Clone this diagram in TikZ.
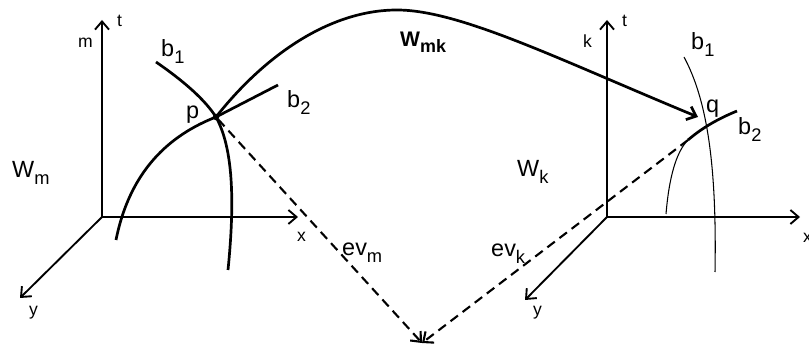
\documentclass[tikz,border=0pt]{standalone}
\usepackage{fontspec}
\usepackage{graphicx}
\setmainfont{Liberation Sans}
\usetikzlibrary{arrows.meta}

\newcommand\lowsub[1]{\raisebox{-0.5ex}{\scalebox{0.78}{#1}}}

\tikzset{
  axis/.style={->, line width=1.6pt},
  curve/.style={line width=2.3pt},
  thincurve/.style={line width=0.9pt},
  evmap/.style={->, line width=1.8pt, dash pattern=on 8pt off 5pt},
  lbl/.style={anchor=base west, inner sep=0pt, font=\fontsize{20}{21}\selectfont},
  axlbl/.style={anchor=base west, inner sep=0pt, font=\fontsize{15}{16}\selectfont},
  dot/.style={circle, draw, fill=white, inner sep=0pt, minimum size=4.5pt, line width=1pt}
}

\begin{document}
\begin{tikzpicture}[x=0.03cm, y=-0.03cm, >={Straight Barb[length=7pt,width=12pt]}]
    \useasboundingbox (0,0) rectangle (809,349);

    % frame of W_m
    \coordinate (Om) at (102,217);
    \coordinate (tm) at (102,20);
    \coordinate (xm) at (298,217);
    \coordinate (ym) at (20,298);
    \draw[axis] (Om) -- (tm);
    \draw[axis] (Om) -- (xm);
    \draw[axis] (Om) -- (ym);
    \node[axlbl] (tm-lbl) at (117,27) {t};
    \node[axlbl] (mm-lbl) at (78,48) {m};
    \node[axlbl] (xm-lbl) at (297,242) {x};
    \node[axlbl] (ym-lbl) at (29,316) {y};
    \node[lbl] (Wm) at (12,178) {W\lowsub{m}};

    % frame of W_k
    \coordinate (Ok) at (607,217);
    \coordinate (tk) at (607,20);
    \coordinate (xk) at (800,217);
    \coordinate (yk) at (525,300);
    \draw[axis] (Ok) -- (tk);
    \draw[axis] (Ok) -- (xk);
    \draw[axis] (Ok) -- (yk);
    \node[axlbl] (tk-lbl) at (622,27) {t};
    \node[axlbl] (kk-lbl) at (583,48) {k};
    \node[axlbl] (xk-lbl) at (803,243) {x};
    \node[axlbl] (yk-lbl) at (533,316) {y};
    \node[lbl] (Wk) at (517,177) {W\lowsub{k}};

    % branches through p
    \node[dot] (p) at (216,117) {};
    \coordinate (b1m-s) at (156,62);
    \coordinate (b1m-e) at (228,270);
    \coordinate (b2m-s) at (116,240);
    \coordinate (b2m-e) at (278,85);
    \draw[curve] (b1m-s) .. controls (185,82) and (205,100) .. (p.center)
        .. controls (233,148) and (235,200) .. (b1m-e);
    \draw[curve] (b2m-s) .. controls (130,170) and (170,135) .. (p.center) -- (b2m-e);
    \node[lbl] (b1m) at (161,57) {b\lowsub{1}};
    \node[lbl] (b2m) at (287,108) {b\lowsub{2}};
    \node[lbl] (p-lbl) at (186,119) {p};

    % branches through q
    \coordinate (q) at (708,123);
    \coordinate (b1k-s) at (684,57);
    \coordinate (b1k-e) at (715,272);
    \coordinate (b2k-s) at (666,214);
    \coordinate (b2k-m) at (688,140);
    \coordinate (b2k-e) at (737,111);
    \draw[thincurve] (b1k-s) .. controls (706,98) and (717,160) .. (b1k-e);
    \draw[thincurve] (b2k-s) .. controls (669,178) and (676,152) .. (b2k-m);
    \draw[curve] (b2k-m) .. controls (703,127) and (720,118) .. (b2k-e);
    \node[lbl] (b1k) at (691,50) {b\lowsub{1}};
    \node[lbl] (b2k) at (738,135) {b\lowsub{2}};
    \node[lbl] (q-lbl) at (706,113) {q};

    % transition map
    \coordinate (wmk-top) at (397,10);
    \coordinate (wmk-end) at (698,117);
    \draw[curve, ->] (p.center) .. controls (265,55) and (330,10) .. (wmk-top)
        .. controls (460,10) and (560,60) .. (wmk-end);
    \node[anchor=base west, inner sep=0pt, font=\bfseries\fontsize{18}{19}\selectfont] (wmk) at (400,47) {W\raisebox{-0.5ex}{\scalebox{0.85}{mk}}};

    % evaluation maps
    \coordinate (ev) at (422,343);
    \draw[evmap] (p) -- (ev);
    \draw[evmap] (b2k-m) -- (ev);
    \node[lbl] (evm) at (342,256) {ev\lowsub{m}};
    \node[lbl] (evk) at (491,257) {ev\lowsub{k}};
\end{tikzpicture}
\end{document}
